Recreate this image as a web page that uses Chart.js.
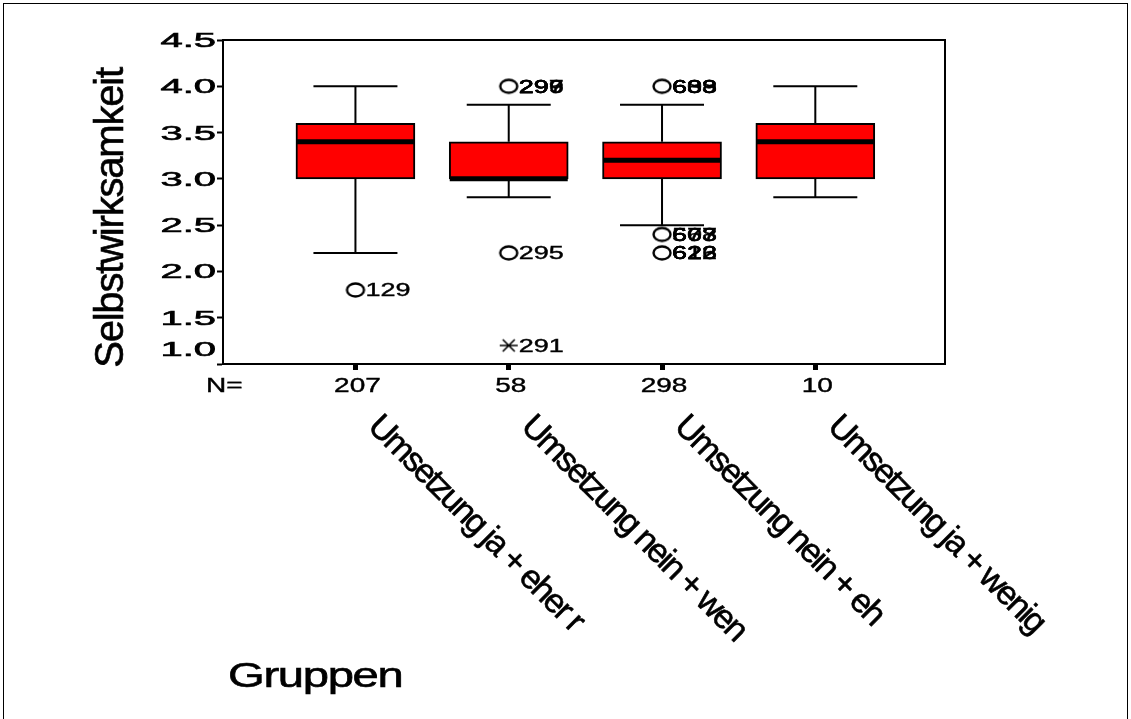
<!DOCTYPE html>
<html>
<head>
<meta charset="utf-8">
<script src="https://cdn.jsdelivr.net/npm/chart.js@4.4.1/dist/chart.umd.min.js"></script>
<style>
  body { margin: 0; background: #fff; }
  canvas { display: block; }
</style>
</head>
<body>
<canvas id="box_chart" width="1131" height="719"></canvas>
<script>
// group labels (rotated under the axis) and the N row
const groups = ["Umsetzung ja + eher r", "Umsetzung nein + wen", "Umsetzung nein + eh", "Umsetzung ja + wenig"];
const nCounts = [207, 58, 298, 10];

// box statistics per group
const whiskerLow = [2.2, 2.8, 2.5, 2.8];
const q1 = [3.0, 3.0, 3.0, 3.0];
const medians = [3.4, 3.0, 3.2, 3.4];
const q3 = [3.6, 3.4, 3.4, 3.6];
const whiskerHigh = [4.0, 3.8, 3.8, 4.0];

// outliers (circles) and extremes (asterisks), with their case numbers
const outlierGroup = [0, 1, 1, 2, 2, 2];
const outlierValue = [1.8, 4.0, 2.2, 4.0, 2.4, 2.2];
const outlierCases = [["129"], ["296", "297", "299"], ["295"], ["608", "633", "689"], ["607", "578", "663"], ["626", "612", "623"]];
const extremeGroup = [1];
const extremeValue = [1.2];
const extremeCases = [["291"]];

const yTicks = [1.0, 1.5, 2.0, 2.5, 3.0, 3.5, 4.0, 4.5];

const FONT = "'Liberation Sans', Arial, sans-serif";

function markerCircle() {
    const c = document.createElement("canvas");
    c.width = 22; c.height = 18;
    const g = c.getContext("2d");
    g.lineWidth = 2.4;
    g.strokeStyle = "#000";
    g.beginPath();
    g.ellipse(11, 9, 8.5, 6.5, 0, 0, Math.PI * 2);
    g.stroke();
    return c;
}
function markerStar() {
    const c = document.createElement("canvas");
    c.width = 22; c.height = 16;
    const g = c.getContext("2d");
    g.lineWidth = 1.6;
    g.strokeStyle = "#000";
    g.beginPath();
    g.moveTo(2, 8); g.lineTo(20, 8);
    g.moveTo(5, 2); g.lineTo(17, 14);
    g.moveTo(17, 2); g.lineTo(5, 14);
    g.stroke();
    return c;
}

function txt(ctx, s, x, y, o) {
    ctx.save();
    ctx.translate(x, y);
    if (o.rot) ctx.rotate(o.rot);
    ctx.scale(o.sx || 1, 1);
    ctx.font = o.size + "px " + FONT;
    if (o.spacing) ctx.letterSpacing = o.spacing + "px";
    ctx.fillStyle = "#000";
    ctx.textAlign = o.align || "left";
    ctx.textBaseline = o.base || "alphabetic";
    ctx.fillText(s, 0, 0);
    if (o.heavy) {
        ctx.strokeStyle = "#000";
        ctx.lineWidth = o.heavy;
        ctx.strokeText(s, 0, 0);
    }
    ctx.restore();
}

const spssPlugin = {
    id: "spss",
    beforeDraw(chart) {
        const ctx = chart.ctx;
        ctx.save();
        ctx.strokeStyle = "#000";
        ctx.lineWidth = 1;
        ctx.strokeRect(3.5, 3.5, 1124, 800);
        ctx.restore();
    },
    afterDatasetsDraw(chart) {
        const ctx = chart.ctx;
        const xs = chart.scales.x, ys = chart.scales.y;
        const a = chart.chartArea;
        ctx.save();
        ctx.strokeStyle = "#000";
        // whiskers
        ctx.lineWidth = 2;
        groups.forEach((g, i) => {
            const x = xs.getPixelForValue(i);
            ctx.beginPath();
            ctx.moveTo(x, ys.getPixelForValue(q3[i]));
            ctx.lineTo(x, ys.getPixelForValue(whiskerHigh[i]));
            ctx.moveTo(x - 42, ys.getPixelForValue(whiskerHigh[i]));
            ctx.lineTo(x + 42, ys.getPixelForValue(whiskerHigh[i]));
            ctx.moveTo(x, ys.getPixelForValue(q1[i]));
            ctx.lineTo(x, ys.getPixelForValue(whiskerLow[i]));
            ctx.moveTo(x - 42, ys.getPixelForValue(whiskerLow[i]));
            ctx.lineTo(x + 42, ys.getPixelForValue(whiskerLow[i]));
            ctx.stroke();
        });
        // medians
        ctx.lineWidth = 5;
        groups.forEach((g, i) => {
            const x = xs.getPixelForValue(i);
            const y = ys.getPixelForValue(medians[i]);
            ctx.beginPath();
            ctx.moveTo(x - 59, y);
            ctx.lineTo(x + 59, y);
            ctx.stroke();
        });
        // top and right frame
        ctx.lineWidth = 2;
        ctx.beginPath();
        ctx.moveTo(a.left, a.top);
        ctx.lineTo(a.right, a.top);
        ctx.lineTo(a.right, a.bottom);
        ctx.stroke();
        ctx.restore();

        // case labels next to outliers
        const label = (gi, v, cases) => {
            const x = xs.getPixelForValue(gi) + 10;
            const y = ys.getPixelForValue(v) + 6.5;
            cases.forEach((c) => txt(ctx, c, x, y, { size: 18, sx: 1.5, heavy: 0.4 }));
        };
        outlierGroup.forEach((gi, k) => label(gi, outlierValue[k], outlierCases[k]));
        extremeGroup.forEach((gi, k) => label(gi, extremeValue[k], extremeCases[k]));
    },
    afterDraw(chart) {
        const ctx = chart.ctx;
        const xs = chart.scales.x, ys = chart.scales.y;
        const a = chart.chartArea;
        // y tick labels
        ys.ticks.forEach((t) => {
            let y = ys.getPixelForValue(t.value) + 7;
            if (y > a.bottom - 2) y = a.bottom - 8;
            txt(ctx, t.value.toFixed(1), a.left - 7, y, { size: 20, sx: 2.0, align: "right", heavy: 0.6 });
        });
        // N row
        txt(ctx, "N=", 206, a.bottom + 28, { size: 20, sx: 1.4, heavy: 0.4 });
        nCounts.forEach((n, i) => {
            txt(ctx, String(n), xs.getPixelForValue(i) + 2, a.bottom + 28, { size: 20, sx: 1.4, align: "center", heavy: 0.4 });
        });
        // rotated group names
        groups.forEach((g, i) => {
            txt(ctx, g, xs.getPixelForValue(i) + 11, a.bottom + 64, { size: 34, spacing: -2.2, rot: Math.PI / 4, heavy: 0.6 });
        });
        // axis titles
        txt(ctx, "Selbstwirksamkeit", 123, (a.top + a.bottom) / 2 + 16, { size: 40, spacing: -1.2, rot: -Math.PI / 2, align: "center", heavy: 0.6 });
        txt(ctx, "Gruppen", 228, 687, { size: 35, sx: 1.35, spacing: -1, heavy: 0.6 });
    },
};

new Chart(document.getElementById("box_chart"), {
    type: "bar",
    data: {
        datasets: [
            {
                type: "bar",
                data: groups.map((g, i) => ({ x: i, y: [q1[i], q3[i]] })),
                backgroundColor: "#ff0000",
                borderColor: "#000",
                borderWidth: 2,
                borderSkipped: false,
                barThickness: 119,
            },
            {
                type: "scatter",
                data: outlierGroup.map((gi, k) => ({ x: gi, y: outlierValue[k] })),
                pointStyle: markerCircle(),
                pointRadius: 8,
            },
            {
                type: "scatter",
                data: extremeGroup.map((gi, k) => ({ x: gi, y: extremeValue[k] })),
                pointStyle: markerStar(),
                pointRadius: 8,
            },
        ],
    },
    options: {
        responsive: false,
        animation: false,
        layout: { padding: { left: 217, top: 40, right: 186, bottom: 349 } },
        plugins: { legend: { display: false }, tooltip: { enabled: false } },
        scales: {
            x: {
                type: "linear",
                min: -0.864,
                max: 3.846,
                offset: false,
                afterBuildTicks: (scale) => {
                    scale.ticks = groups.map((g, i) => ({ value: i }));
                },
                ticks: { display: false },
                grid: { drawOnChartArea: false, offset: false, tickLength: 6, tickWidth: 5, tickColor: "#000" },
                border: { color: "#000", width: 2 },
            },
            y: {
                min: 1,
                max: 4.5,
                afterBuildTicks: (scale) => {
                    scale.ticks = yTicks.map((v) => ({ value: v }));
                },
                ticks: { display: false },
                grid: { drawOnChartArea: false, tickLength: 6, tickWidth: 2, tickColor: "#000" },
                border: { color: "#000", width: 2 },
            },
        },
    },
    plugins: [spssPlugin],
});
</script>
</body>
</html>
